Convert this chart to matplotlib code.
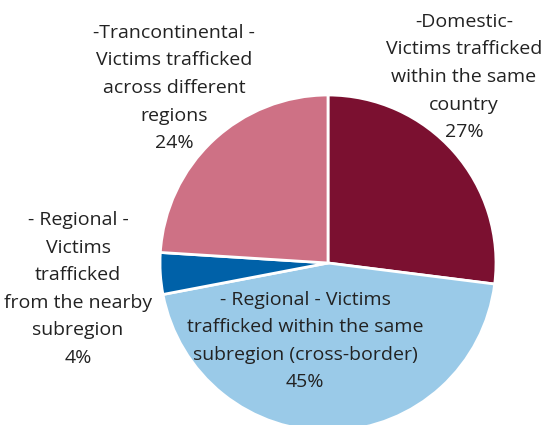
import matplotlib
matplotlib.use("Agg")
import matplotlib.pyplot as plt

categories = ["Domestic", "Regional (within subregion)", "Regional (nearby subregion)", "Trancontinental"]
values = [27, 45, 4, 24]
labels = [
    "-Domestic-\nVictims trafficked\nwithin the same\ncountry\n27%",
    "- Regional - Victims\ntrafficked within the same\nsubregion (cross-border)\n45%",
    "- Regional -\nVictims\ntrafficked\nfrom the nearby\nsubregion\n4%",
    "-Trancontinental -\nVictims trafficked\nacross different\nregions\n24%",
]
colors = ["#7B1030", "#9ACAE8", "#0061A8", "#CE7185"]

W, H = 559, 425
CX, CY, R = 328, 263, 168
fig = plt.figure(figsize=(W / 100, H / 100), dpi=100)
ax = fig.add_axes([0, 0, 1, 1])
ax.pie(values, colors=colors, startangle=90, counterclock=False, radius=1,
       wedgeprops=dict(edgecolor="white", linewidth=2))
ax.set_xlim(-CX / R, (W - CX) / R)
ax.set_ylim(-(H - CY) / R, CY / R)
ax.set_aspect("equal")
ax.axis("off")

def px(x, y):
    return (x - CX) / R, (CY - y) / R

label_pos = [(464, 77), (305, 341), (78, 289), (174, 88)]
for lab, (x, y) in zip(labels, label_pos):
    ax.text(*px(x, y), lab, ha="center", va="center", fontsize=14,
            family="Open Sans", color="#222222", linespacing=1.68, multialignment="center")

fig.savefig("out.png", dpi=100)
